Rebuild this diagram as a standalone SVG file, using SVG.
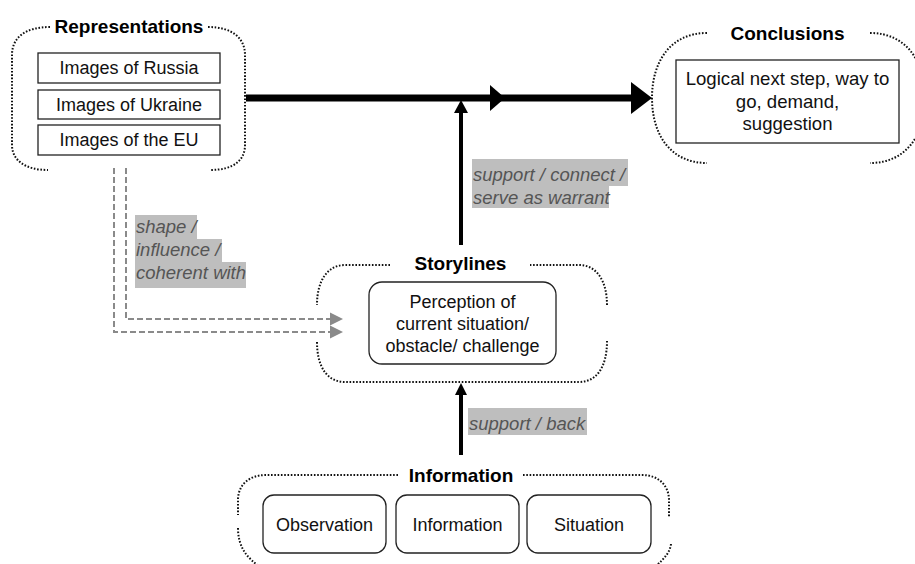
<svg xmlns="http://www.w3.org/2000/svg" width="915" height="564" viewBox="0 0 915 564">
  <style>
    .frame { fill: none; stroke: #111; stroke-width: 2; stroke-dasharray: 1.6 1.7; }
    .box { fill: #fff; stroke: #222; stroke-width: 1.3; }
    .title { font-family: "Liberation Sans", Arial, sans-serif; font-weight: bold; font-size: 19px; fill: #000; text-anchor: middle; }
    .txt { font-family: "Liberation Sans", Arial, sans-serif; font-size: 18px; fill: #111; text-anchor: middle; }
    .big { font-size: 18.6px; }
    .lbl { font-family: "Liberation Sans", Arial, sans-serif; font-style: italic; font-size: 18.5px; fill: #555; }
    .lblbg { fill: #bebebe; }
    .solid { stroke: #000; fill: none; }
    .dash { stroke: #8a8a8a; stroke-width: 2; fill: none; stroke-dasharray: 6 3; }
  </style>

  <!-- Representations -->
  <g id="representations">
    <path class="frame" d="M50,27 C26,27 12,37 12,55 L12,145 C12,160 25,170 48,170"/>
    <path class="frame" d="M208,27 C232,27 245,38 245,55 L245,145 C245,160 234,170 210,170"/>
    <text class="title" x="129" y="33">Representations</text>
    <rect class="box" x="38" y="53" width="182" height="30"/>
    <text class="txt" x="129" y="74">Images of Russia</text>
    <rect class="box" x="38" y="90" width="182" height="29"/>
    <text class="txt" x="129" y="110.5">Images of Ukraine</text>
    <rect class="box" x="38" y="125" width="182" height="30"/>
    <text class="txt" x="129" y="146">Images of the EU</text>
  </g>

  <!-- Conclusions -->
  <g id="conclusions">
    <path class="frame" d="M707,33 C670,33 652,62 652,98 C652,134 670,163 707,163"/>
    <path class="frame" d="M870,33 C907,33 925,62 925,98 C925,134 907,163 870,163"/>
    <text class="title" x="787.5" y="40">Conclusions</text>
    <rect class="box" x="676" y="60" width="223" height="83"/>
    <text class="txt big" x="787.5" y="85">Logical next step, way to</text>
    <text class="txt big" x="787.5" y="107.5">go, demand,</text>
    <text class="txt big" x="787.5" y="130">suggestion</text>
  </g>

  <!-- Storylines -->
  <g id="storylines">
    <path class="frame" d="M390,265 L345,265 C328,265 317,280 317,305"/>
    <path class="frame" d="M317,342 C317,368 328,382 345,382 L579,382 C596,382 607,368 607,341"/>
    <path class="frame" d="M607,305 C607,280 596,265 579,265 L530,265"/>
    <text class="title" x="460.5" y="270">Storylines</text>
    <rect class="box" x="369" y="282" width="187" height="82" rx="13"/>
    <text class="txt" x="462.5" y="308">Perception of</text>
    <text class="txt" x="462.5" y="330">current situation/</text>
    <text class="txt" x="462.5" y="352">obstacle/ challenge</text>
  </g>

  <!-- Information -->
  <g id="information">
    <path class="frame" d="M398,475 L266,475 C249,475 238,485 238,500 L238,515"/>
    <path class="frame" d="M238,528 C238,546 246,558 262,568"/>
    <path class="frame" d="M523,475 L642,475 C659,475 669,486 669,500 L669,517"/>
    <path class="frame" d="M671,544 C670,552 665,558 656,566"/>
    <text class="title" x="461" y="482">Information</text>
    <rect class="box" x="263" y="495" width="123" height="58" rx="11"/>
    <text class="txt" x="324.5" y="531">Observation</text>
    <rect class="box" x="396" y="495" width="123" height="58" rx="11"/>
    <text class="txt" x="457.5" y="531">Information</text>
    <rect class="box" x="527" y="495" width="124" height="58" rx="11"/>
    <text class="txt" x="589" y="531">Situation</text>
  </g>

  <!-- Connectors -->
  <g id="connectors">
    <!-- main argument line -->
    <line class="solid" x1="246" y1="98" x2="636" y2="98" stroke-width="7"/>
    <polygon points="490,85 505,98 490,111" fill="#000"/>
    <polygon points="631,82 652,98 631,114" fill="#000"/>

    <!-- storylines to main line -->
    <line class="solid" x1="461" y1="245" x2="461" y2="110" stroke-width="4"/>
    <polygon points="454,113 461,100 468,113" fill="#000"/>

    <!-- information to storylines -->
    <line class="solid" x1="461" y1="455" x2="461" y2="393" stroke-width="4"/>
    <polygon points="455,395 461,383 467,395" fill="#000"/>

    <!-- representations to storylines -->
    <path class="dash" d="M114,168 V332 H331"/>
    <path class="dash" d="M126,168 V319 H331"/>
    <polygon points="330,312.5 343,319 330,325.5" fill="#8a8a8a"/>
    <polygon points="330,325.5 343,332 330,338.5" fill="#8a8a8a"/>

    <!-- labels -->
    <rect class="lblbg" x="472" y="159" width="156" height="27"/>
    <rect class="lblbg" x="472" y="186" width="137" height="22"/>
    <text class="lbl" x="473" y="181">support / connect /</text>
    <text class="lbl" x="473" y="204">serve as warrant</text>

    <rect class="lblbg" x="135" y="215" width="62" height="24"/>
    <rect class="lblbg" x="135" y="239" width="87" height="23"/>
    <rect class="lblbg" x="135" y="262" width="111" height="26"/>
    <text class="lbl" x="136" y="233">shape /</text>
    <text class="lbl" x="136" y="256">influence /</text>
    <text class="lbl" x="136" y="279">coherent with</text>

    <rect class="lblbg" x="468" y="408" width="119" height="27"/>
    <text class="lbl" x="469" y="430">support / back</text>
  </g>
</svg>
